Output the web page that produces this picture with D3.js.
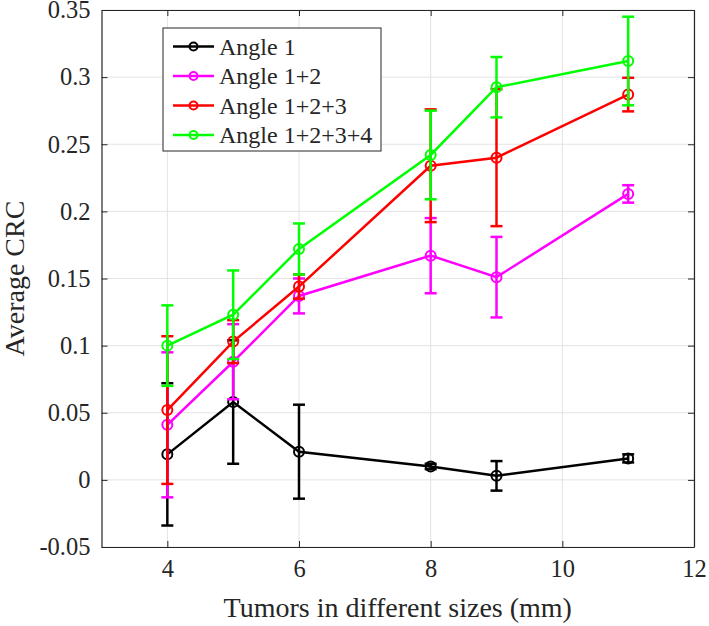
<!DOCTYPE html>
<html>
<head>
<meta charset="utf-8">
<script src="https://cdn.jsdelivr.net/npm/d3@7"></script>
<style>
  html, body { margin: 0; padding: 0; background: #fff; }
  svg text { font-family: "Liberation Serif", "Times New Roman", serif; fill: #262626; }
</style>
</head>
<body>
<svg id="chart" width="709" height="626"></svg>
<script>
const sizes = [4, 5, 6, 8, 9, 11];
const angle1 = [0.019, 0.058, 0.021, 0.010, 0.003, 0.016];
const angle1Err = [0.053, 0.046, 0.035, 0.002, 0.011, 0.003];
const angle12 = [0.041, 0.088, 0.137, 0.167, 0.151, 0.213];
const angle12Err = [0.054, 0.028, 0.013, 0.028, 0.030, 0.0065];
const angle123 = [0.052, 0.103, 0.144, 0.234, 0.240, 0.287];
const angle123Err = [0.055, 0.016, 0.009, 0.042, 0.051, 0.0125];
const angle1234 = [0.100, 0.123, 0.172, 0.242, 0.2925, 0.312];
const angle1234Err = [0.030, 0.033, 0.019, 0.033, 0.0225, 0.033];
const seriesNames = ["Angle 1", "Angle 1+2", "Angle 1+2+3", "Angle 1+2+3+4"];
const seriesColors = ["#000000", "#ff00ff", "#ff0000", "#00ff00"];
const xTicks = [4, 6, 8, 10, 12];
const yTicks = [-0.05, 0, 0.05, 0.1, 0.15, 0.2, 0.25, 0.3, 0.35];

const series = [
  { name: seriesNames[0], color: seriesColors[0], values: angle1, errs: angle1Err },
  { name: seriesNames[1], color: seriesColors[1], values: angle12, errs: angle12Err },
  { name: seriesNames[2], color: seriesColors[2], values: angle123, errs: angle123Err },
  { name: seriesNames[3], color: seriesColors[3], values: angle1234, errs: angle1234Err }
];

const svg = d3.select("#chart");
const L = 101.5, R = 694, T = 10, B = 547;
const x = d3.scaleLinear().domain([3, 12]).range([L, R]);
const y = d3.scaleLinear().domain([-0.05, 0.35]).range([B, T]);

// grid
const grid = svg.append("g");
grid.selectAll("line.gx").data(xTicks).enter().append("line")
  .attr("x1", d => x(d)).attr("x2", d => x(d)).attr("y1", T).attr("y2", B)
  .attr("stroke", "#e3e3e3").attr("stroke-width", 1);
grid.selectAll("line.gy").data(yTicks).enter().append("line")
  .attr("x1", L).attr("x2", R).attr("y1", d => y(d)).attr("y2", d => y(d))
  .attr("stroke", "#e3e3e3").attr("stroke-width", 1);

// axes
const tickLen = 6;
const xAxisB = d3.axisBottom(x).tickValues(xTicks).tickSizeInner(-tickLen).tickSizeOuter(0).tickPadding(13).tickFormat(d3.format("d"));
const xAxisT = d3.axisTop(x).tickValues(xTicks).tickSizeInner(-tickLen).tickSizeOuter(0).tickFormat("");
const yFmt = d => d === 0 ? "0" : String(+d.toFixed(2));
const yAxisL = d3.axisLeft(y).tickValues(yTicks).tickSizeInner(-tickLen).tickSizeOuter(0).tickPadding(11).tickFormat(yFmt);
const yAxisR = d3.axisRight(y).tickValues(yTicks).tickSizeInner(-tickLen).tickSizeOuter(0).tickFormat("");

function styleAxis(g) {
  g.attr("font-family", null);
  g.select(".domain").attr("stroke", "#262626").attr("stroke-width", 1.2);
  g.selectAll(".tick line").attr("stroke", "#262626").attr("stroke-width", 1);
  g.selectAll(".tick text").attr("font-size", 24.5).attr("fill", "#262626")
    .style("font-family", "'Liberation Serif', 'Times New Roman', serif");
}
svg.append("g").attr("transform", `translate(0,${B})`).call(xAxisB).call(styleAxis);
svg.append("g").attr("transform", `translate(0,${T})`).call(xAxisT).call(styleAxis);
svg.append("g").attr("transform", `translate(${L},0)`).call(yAxisL).call(styleAxis);
svg.append("g").attr("transform", `translate(${R},0)`).call(yAxisR).call(styleAxis);

// series
const line = d3.line().x(d => x(d.x)).y(d => y(d.y));
const capW = 6;
series.forEach(s => {
  const pts = sizes.map((sz, i) => ({ x: sz, y: s.values[i], e: s.errs[i] }));
  const g = svg.append("g");
  g.append("path").datum(pts).attr("d", line).attr("fill", "none")
    .attr("stroke", s.color).attr("stroke-width", 2.5);
  const eb = g.selectAll("g.eb").data(pts).enter().append("g");
  eb.append("line").attr("x1", d => x(d.x)).attr("x2", d => x(d.x))
    .attr("y1", d => y(d.y - d.e)).attr("y2", d => y(d.y + d.e))
    .attr("stroke", s.color).attr("stroke-width", 2.5);
  eb.append("line").attr("x1", d => x(d.x) - capW).attr("x2", d => x(d.x) + capW)
    .attr("y1", d => y(d.y - d.e)).attr("y2", d => y(d.y - d.e))
    .attr("stroke", s.color).attr("stroke-width", 2.5);
  eb.append("line").attr("x1", d => x(d.x) - capW).attr("x2", d => x(d.x) + capW)
    .attr("y1", d => y(d.y + d.e)).attr("y2", d => y(d.y + d.e))
    .attr("stroke", s.color).attr("stroke-width", 2.5);
  g.selectAll("circle").data(pts).enter().append("circle")
    .attr("cx", d => x(d.x)).attr("cy", d => y(d.y)).attr("r", 5)
    .attr("fill", "none").attr("stroke", s.color).attr("stroke-width", 2);
});

// legend
const lg = svg.append("g").attr("transform", "translate(163,28)");
lg.append("rect").attr("x", 0).attr("y", 0).attr("width", 218).attr("height", 123)
  .attr("fill", "#fff").attr("stroke", "#262626").attr("stroke-width", 1);
series.forEach((s, i) => {
  const cy = 18.5 + i * 29.5;
  lg.append("line").attr("x1", 10).attr("x2", 51).attr("y1", cy).attr("y2", cy)
    .attr("stroke", s.color).attr("stroke-width", 2.5);
  lg.append("circle").attr("cx", 30.5).attr("cy", cy).attr("r", 4)
    .attr("fill", "none").attr("stroke", s.color).attr("stroke-width", 2);
  lg.append("text").attr("x", 56).attr("y", cy).attr("dy", "0.35em")
    .attr("font-size", 24).attr("fill", "#000").text(s.name);
});

// axis labels
svg.append("text").attr("x", (L + R) / 2).attr("y", 617).attr("text-anchor", "middle")
  .attr("font-size", 28).text("Tumors in different sizes (mm)");
svg.append("text").attr("transform", `translate(24,${(T + B) / 2}) rotate(-90)`)
  .attr("text-anchor", "middle").attr("font-size", 28).text("Average CRC");
</script>
</body>
</html>
